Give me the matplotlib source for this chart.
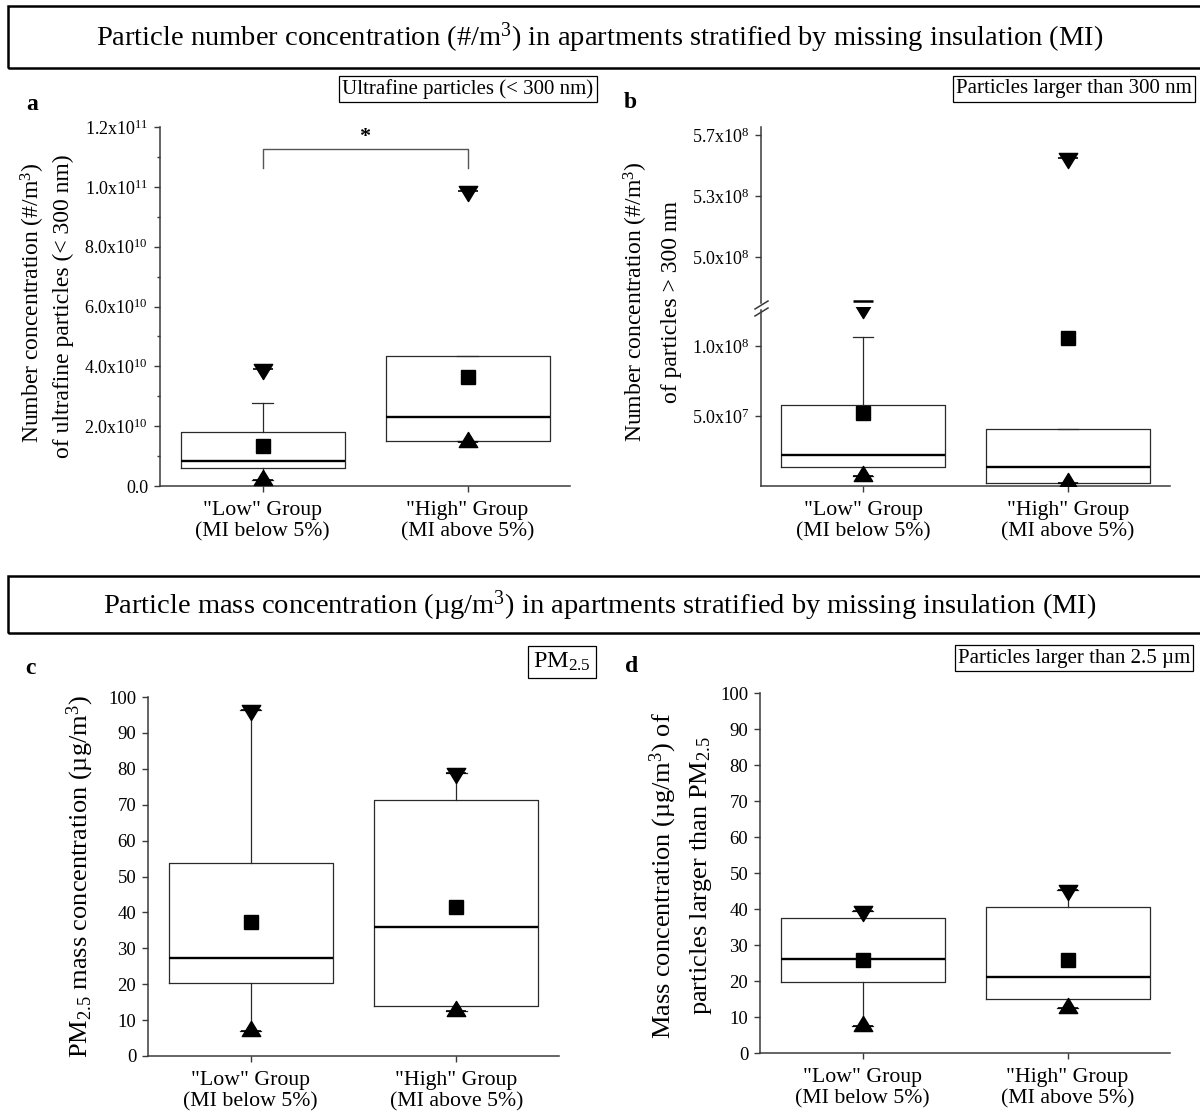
import numpy as np
import matplotlib
matplotlib.use("Agg")
import matplotlib.pyplot as plt
from matplotlib.path import Path
from matplotlib.patches import Rectangle
from matplotlib.lines import Line2D
from matplotlib.transforms import offset_copy
from matplotlib.ticker import FixedLocator, FuncFormatter, NullLocator

plt.rcParams['font.family'] = ['Liberation Serif', 'DejaVu Serif']
plt.rcParams['mathtext.fontset'] = 'custom'
plt.rcParams['mathtext.rm'] = 'Liberation Serif'
plt.rcParams['mathtext.it'] = 'Liberation Serif:italic'
plt.rcParams['mathtext.bf'] = 'Liberation Serif:bold'

W, H = 1200, 1113

groups = ['"Low" Group\n(MI below 5%)', '"High" Group\n(MI above 5%)']
positions = [1, 2]

# (a) ultrafine particle number concentration (#/m3)
ufp_q1 = [0.61e10, 1.50e10]
ufp_med = [0.83e10, 2.31e10]
ufp_q3 = [1.79e10, 4.34e10]
ufp_mean = [1.34e10, 3.64e10]
ufp_whislo = [0.20e10, 1.50e10]
ufp_whishi = [2.79e10, 4.34e10]
ufp_min = [0.20e10, 1.47e10]
ufp_max = [3.92e10, 9.87e10]

# (b) number concentration of particles > 300 nm (#/m3)
big_q1 = [1.34e7, 0.19e7]
big_med = [2.21e7, 1.38e7]
big_q3 = [5.79e7, 4.10e7]
big_mean = [5.19e7, 10.55e7]
big_whislo = [0.71e7, 0.19e7]
big_whishi = [10.66e7, 4.10e7]
big_min = [0.71e7, 0.19e7]
big_max = [1.32e8, 5.54e8]

# (c) PM2.5 mass concentration (ug/m3)
pm25_q1 = [20.4, 13.8]
pm25_med = [27.4, 35.9]
pm25_q3 = [53.7, 71.3]
pm25_mean = [37.2, 41.4]
pm25_whislo = [7.0, 12.6]
pm25_whishi = [96.5, 78.7]
pm25_min = [7.0, 12.6]
pm25_max = [96.5, 78.7]

# (d) mass concentration of particles larger than PM2.5 (ug/m3)
coarse_q1 = [19.6, 15.0]
coarse_med = [26.1, 21.0]
coarse_q3 = [37.5, 40.6]
coarse_mean = [25.9, 25.9]
coarse_whislo = [7.4, 12.5]
coarse_whishi = [39.4, 45.4]
coarse_min = [7.4, 12.5]
coarse_max = [39.4, 45.4]

# triangles anchored on their centroid
UP = Path([(0, 1.093), (-1, -0.547), (1, -0.547), (0, 1.093)],
          [Path.MOVETO, Path.LINETO, Path.LINETO, Path.CLOSEPOLY])
DOWN = Path([(0, -1.093), (-1, 0.547), (1, 0.547), (0, -1.093)],
            [Path.MOVETO, Path.LINETO, Path.LINETO, Path.CLOSEPOLY])

EDGE = '#2a2a2a'
SPINE = '#3a3a3a'
TRI = 14.5

fig = plt.figure(figsize=(W / 100, H / 100), dpi=100)


def px_axes(left, top, right, bottom):
    return fig.add_axes([left / W, 1 - bottom / H, (right - left) / W, (bottom - top) / H])


def fig_text(x, y, s, **kw):
    return fig.text(x / W, 1 - y / H, s, **kw)


def style_axes(ax, ylabsize, xlabels=True):
    for side in ('top', 'right'):
        ax.spines[side].set_visible(False)
    for side in ('left', 'bottom'):
        ax.spines[side].set_color(SPINE)
        ax.spines[side].set_linewidth(1.1)
    ax.tick_params(axis='both', which='major', direction='out', length=4.5,
                   width=1.0, color=SPINE, labelsize=ylabsize, pad=4)
    ax.tick_params(axis='y', which='minor', direction='out', length=2.5,
                   width=1.0, color=SPINE)
    ax.set_xlim(0.5, 2.5)
    if xlabels:
        ax.set_xticks(positions)
        ax.set_xticklabels(groups, fontsize=15.7, linespacing=1.2)
        ax.tick_params(axis='x', pad=6)


def draw_boxes(ax, q1, med, q3, mean, wlo, whi, vmin, vmax, draw_max=True):
    stats = [dict(q1=q1[i], med=med[i], q3=q3[i], mean=mean[i],
                  whislo=wlo[i], whishi=whi[i], fliers=[]) for i in range(2)]
    ax.bxp(stats, positions=positions, widths=0.8, showmeans=True,
           showfliers=False, capwidths=0.1, manage_ticks=False,
           boxprops=dict(color=EDGE, lw=0.9),
           medianprops=dict(color='black', lw=1.7),
           whiskerprops=dict(color=EDGE, lw=0.9),
           capprops=dict(color=EDGE, lw=0.9),
           meanprops=dict(marker='s', markersize=10, markerfacecolor='black',
                          markeredgecolor='black'))
    ax.plot(positions, vmin, ls='none', marker=UP, markersize=TRI,
            color='black', zorder=4)
    ax.plot(positions, vmin, ls='none', marker='_', markersize=15,
            mew=1.2, color='black', zorder=4)
    if draw_max:
        ax.plot(positions, vmax, ls='none', marker=DOWN, markersize=TRI,
                color='black', zorder=4)
        ax.plot(positions, vmax, ls='none', marker='_', markersize=15,
                mew=1.2, color='black', zorder=4)


def sci_label(v, pos=None):
    if v == 0:
        return '0.0'
    e = int(np.floor(np.log10(abs(v)) + 1e-9))
    m = v / 10 ** e
    return f'{m:.1f}x10$^{{{e}}}$'


# ---------- section titles ----------
for (top, bottom, title) in [
        (6, 68, 'Particle number concentration (#/m$^3$) in apartments stratified by missing insulation (MI)'),
        (576, 633, 'Particle mass concentration (µg/m$^3$) in apartments stratified by missing insulation (MI)')]:
    fig.patches.append(Rectangle((8 / W, 1 - bottom / H), 1210 / W, (bottom - top) / H,
                                 transform=fig.transFigure, fill=False,
                                 lw=1.8, edgecolor='black'))
    fig_text(600, (top + bottom) / 2 + 1, title, ha='center', va='center',
             fontsize=20.5)

# ---------- panel a ----------
ax_a = px_axes(160, 127, 570, 486)
style_axes(ax_a, 13)
draw_boxes(ax_a, ufp_q1, ufp_med, ufp_q3, ufp_mean, ufp_whislo, ufp_whishi,
           ufp_min, ufp_max)
ax_a.set_ylim(0, 1.2e11)
ax_a.yaxis.set_major_locator(FixedLocator(np.arange(0, 1.21e11, 2e10)))
ax_a.yaxis.set_minor_locator(FixedLocator(np.arange(1e10, 1.2e11, 2e10)))
ax_a.yaxis.set_major_formatter(FuncFormatter(sci_label))
# significance bracket
ax_a.plot([1, 1, 2, 2], [1.062e11, 1.125e11, 1.125e11, 1.062e11],
          color='#555555', lw=1.0, clip_on=False)
ax_a.text(1.5, 1.132e11, '*', ha='center', va='bottom', fontsize=16,
          fontweight='bold')
fig_text(33, 303, 'Number concentration (#/m$^3$)', rotation=90,
         ha='center', va='center', fontsize=17)
fig_text(63, 306, 'of ultrafine particles (< 300 nm)', rotation=90,
         ha='center', va='center', fontsize=17)
fig_text(32, 104, 'a', ha='center', va='center', fontsize=17, fontweight='bold')
fig_text(468, 89, 'Ultrafine particles (< 300 nm)', ha='center', va='center',
         fontsize=15,
         bbox=dict(boxstyle='square,pad=0.15', fc='white', ec='black', lw=0.9))

# ---------- panel b (broken axis) ----------
ax_bl = px_axes(761, 307, 1170, 486)
ax_bu = px_axes(761, 127, 1170, 307)
style_axes(ax_bl, 13)
style_axes(ax_bu, 13, xlabels=False)
ax_bu.patch.set_visible(False)
ax_bu.spines['bottom'].set_visible(False)
ax_bu.xaxis.set_major_locator(NullLocator())
ax_bl.set_ylim(0, 1.28e8)
ax_bu.set_ylim(4.727e8, 5.71e8)
ax_bl.yaxis.set_major_locator(FixedLocator([5e7, 1e8]))
ax_bu.yaxis.set_major_locator(FixedLocator([5.0e8, 5.0e8 + 1e8 / 3, 5.0e8 + 2e8 / 3]))
ax_bl.yaxis.set_major_formatter(FuncFormatter(sci_label))
ax_bu.yaxis.set_major_formatter(FuncFormatter(sci_label))
ax_bl.spines['left'].set_bounds(0, 1.262e8)
ax_bu.spines['left'].set_bounds(4.75e8, 5.71e8)
draw_boxes(ax_bl, big_q1, big_med, big_q3, big_mean, big_whislo, big_whishi,
           big_min, big_max, draw_max=False)
# maxima: the Low maximum falls in the break (marker clipped at the break,
# drawn a few pixels lower), the High maximum on the upper segment
shifted = offset_copy(ax_bl.transData, fig=fig, y=-7, units='dots')
ax_bl.plot(positions[:1], big_max[:1], ls='none', marker=DOWN,
           markersize=TRI, color='black', zorder=4, transform=shifted)
ax_bl.plot(positions[:1], big_max[:1], ls='none', marker='_', markersize=15,
           mew=1.8, color='black', zorder=6, clip_on=False)
ax_bu.plot(positions[1:], big_max[1:], ls='none', marker=DOWN, markersize=TRI,
           color='black', zorder=4)
ax_bu.plot(positions[1:], big_max[1:], ls='none', marker='_', markersize=15,
           mew=1.2, color='black', zorder=4)
# break marks on the y axis
for dy in (0, 7):
    fig.lines.append(Line2D([755 / W, 768 / W],
                            [1 - (309 + dy) / H, 1 - (301 + dy) / H],
                            transform=fig.transFigure, color=SPINE, lw=1.1))
fig_text(636, 302, 'Number concentration (#/m$^3$)', rotation=90,
         ha='center', va='center', fontsize=17)
fig_text(671, 302, 'of particles > 300 nm', rotation=90,
         ha='center', va='center', fontsize=17)
fig_text(630, 102, 'b', ha='center', va='center', fontsize=17, fontweight='bold')
fig_text(956, 89, 'Particles larger than 300 nm', ha='left', va='center',
         fontsize=15,
         bbox=dict(boxstyle='square,pad=0.15', fc='white', ec='black', lw=0.9))

# ---------- panel c ----------
ax_c = px_axes(148, 697, 559, 1056)
style_axes(ax_c, 13.5)
draw_boxes(ax_c, pm25_q1, pm25_med, pm25_q3, pm25_mean, pm25_whislo,
           pm25_whishi, pm25_min, pm25_max)
ax_c.set_ylim(0, 100)
ax_c.yaxis.set_major_locator(FixedLocator(np.arange(0, 101, 10)))
fig_text(80, 877, 'PM$_{2.5}$ mass concentration (µg/m$^3$)', rotation=90,
         ha='center', va='center', fontsize=19)
fig_text(30, 668, 'c', ha='center', va='center', fontsize=17, fontweight='bold')
fig_text(562, 662, 'PM$_{2.5}$', ha='center', va='center', fontsize=17.5,
         bbox=dict(boxstyle='square,pad=0.2', fc='white', ec='black', lw=0.9))

# ---------- panel d ----------
ax_d = px_axes(760, 693, 1170, 1053)
style_axes(ax_d, 13.5)
draw_boxes(ax_d, coarse_q1, coarse_med, coarse_q3, coarse_mean, coarse_whislo,
           coarse_whishi, coarse_min, coarse_max)
ax_d.set_ylim(0, 100)
ax_d.yaxis.set_major_locator(FixedLocator(np.arange(0, 101, 10)))
fig_text(663, 876, 'Mass concentration (µg/m$^3$) of', rotation=90,
         ha='center', va='center', fontsize=19)
fig_text(701, 876, 'particles larger than PM$_{2.5}$', rotation=90,
         ha='center', va='center', fontsize=19)
fig_text(632, 666, 'd', ha='center', va='center', fontsize=17, fontweight='bold')
fig_text(958, 658, 'Particles larger than 2.5 µm', ha='left', va='center',
         fontsize=15,
         bbox=dict(boxstyle='square,pad=0.15', fc='white', ec='black', lw=0.9))

fig.savefig('out.png', dpi=100, facecolor='white')
